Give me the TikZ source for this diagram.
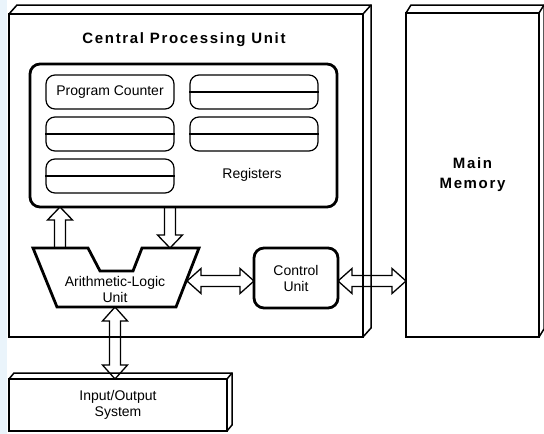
\documentclass[tikz,border=0pt]{standalone}
\usepackage{fontspec}
\setmainfont{Liberation Sans}
\newfontfamily\spacedfont[LetterSpace=11]{Liberation Sans}
\usepackage{tikz}
\usetikzlibrary{calc}

\definecolor{edgeblue}{RGB}{234,244,251}

\begin{document}
\begin{tikzpicture}[x=1pt,y=-1pt,
    font=\fontsize{14}{16}\selectfont,
    box3d/.style={draw, line width=1.8, outer sep=0, align=center},
    backline/.style={line width=1.5},
    title/.style={font=\spacedfont\bfseries\fontsize{15}{20}\selectfont, align=center},
    regbox/.style={draw, line width=2.8, rounded corners=10, outer sep=0},
    reg/.style={draw, line width=1.2, rounded corners=9, minimum width=128, minimum height=34},
    regline/.style={line width=1.2},
    unit/.style={draw, line width=2.8, align=center},
    sblockarrow/.style={draw, line width=1.3,
      to path={($(\tikztostart)!5.5pt!90:(\tikztotarget)$)
        -- ($(\tikztotarget)!13pt!(\tikztostart)!5.5pt!-90:(\tikztostart)$)
        -- ($(\tikztotarget)!13pt!(\tikztostart)!12.5pt!-90:(\tikztostart)$)
        -- (\tikztotarget)
        -- ($(\tikztotarget)!13pt!(\tikztostart)!12.5pt!90:(\tikztostart)$)
        -- ($(\tikztotarget)!13pt!(\tikztostart)!5.5pt!90:(\tikztostart)$)
        -- ($(\tikztostart)!5.5pt!-90:(\tikztotarget)$) -- cycle}},
    dblockarrow/.style={draw, line width=1.3,
      to path={(\tikztostart)
        -- ($(\tikztostart)!14pt!(\tikztotarget)!12.5pt!90:(\tikztotarget)$)
        -- ($(\tikztostart)!14pt!(\tikztotarget)!5.5pt!90:(\tikztotarget)$)
        -- ($(\tikztotarget)!14pt!(\tikztostart)!5.5pt!-90:(\tikztostart)$)
        -- ($(\tikztotarget)!14pt!(\tikztostart)!12.5pt!-90:(\tikztostart)$)
        -- (\tikztotarget)
        -- ($(\tikztotarget)!14pt!(\tikztostart)!12.5pt!90:(\tikztostart)$)
        -- ($(\tikztotarget)!14pt!(\tikztostart)!5.5pt!90:(\tikztostart)$)
        -- ($(\tikztostart)!14pt!(\tikztotarget)!5.5pt!-90:(\tikztotarget)$)
        -- ($(\tikztostart)!14pt!(\tikztotarget)!12.5pt!-90:(\tikztotarget)$)
        -- cycle}}]

  \fill[white] (0,0) rectangle (544,434);
  \fill[edgeblue] (0,0) rectangle (6.5,434);
  \useasboundingbox (0,0) rectangle (544,434);

  % boxes with depth
  \node[box3d, minimum width=354, minimum height=323] (cpu) at (186,175.5) {};
  \node[box3d, minimum width=133, minimum height=324, font=\spacedfont\bfseries\fontsize{15}{20}\selectfont] (mem) at (472.5,175) {Main\\Memory};
  \node[box3d, minimum width=218, minimum height=52] (io) at (118,405) {Input/Output\\System};
  \foreach \b/\dx/\dy in {cpu/8/9, mem/5/8, io/5/6} {
    \draw[backline] (\b.north west) -- ++(\dx,-\dy) -- ($(\b.north east)+(\dx,-\dy)$)
      -- ($(\b.south east)+(\dx,-\dy)$) -- (\b.south east);
    \draw[backline] (\b.north east) -- ++(\dx,-\dy);
  }
  \node[title] (cputitle) at (184,40) {Central Processing Unit};

  % registers
  \node[regbox, minimum width=307, minimum height=143] (regs) at (183.5,135.5) {};
  \node[reg] (pc) at (110,92) {Program Counter};
  \foreach \n/\x/\y in {r1/254/92, r2/110/134, r3/254/134, r4/110/176} {
    \node[reg] (\n) at (\x,\y) {};
    \draw[regline] (\n.west) -- (\n.east);
  }
  \node (reglabel) at (252,175) {Registers};

  % ALU and control unit
  \draw[unit] (33,248) -- (88,248) -- (100,271) -- (133,271) -- (142,248) -- (199,248)
    -- (176,307) -- (57,307) -- cycle;
  \node[align=center] (alu) at (115,289.5) {Arithmetic-Logic\\Unit};
  \node[unit, rounded corners=10, minimum width=84, minimum height=60, outer sep=0] (cu) at (296,278) {Control\\Unit};

  \coordinate (alu-up) at (60,248);
  \coordinate (alu-down) at (170,248);
  \coordinate (alu-right) at (187,281);
  \coordinate (alu-bottom) at (115,307);

  % data paths
  \draw[sblockarrow] (alu-up) to (alu-up |- regs.south);
  \draw[sblockarrow] (alu-down |- regs.south) to (alu-down);
  \draw[dblockarrow] (alu-right) to (alu-right -| cu.west);
  \draw[dblockarrow] (cu.east |- alu-right) to (alu-right -| mem.west);
  \draw[dblockarrow] (alu-bottom) to (alu-bottom |- io.north);
\end{tikzpicture}
\end{document}
